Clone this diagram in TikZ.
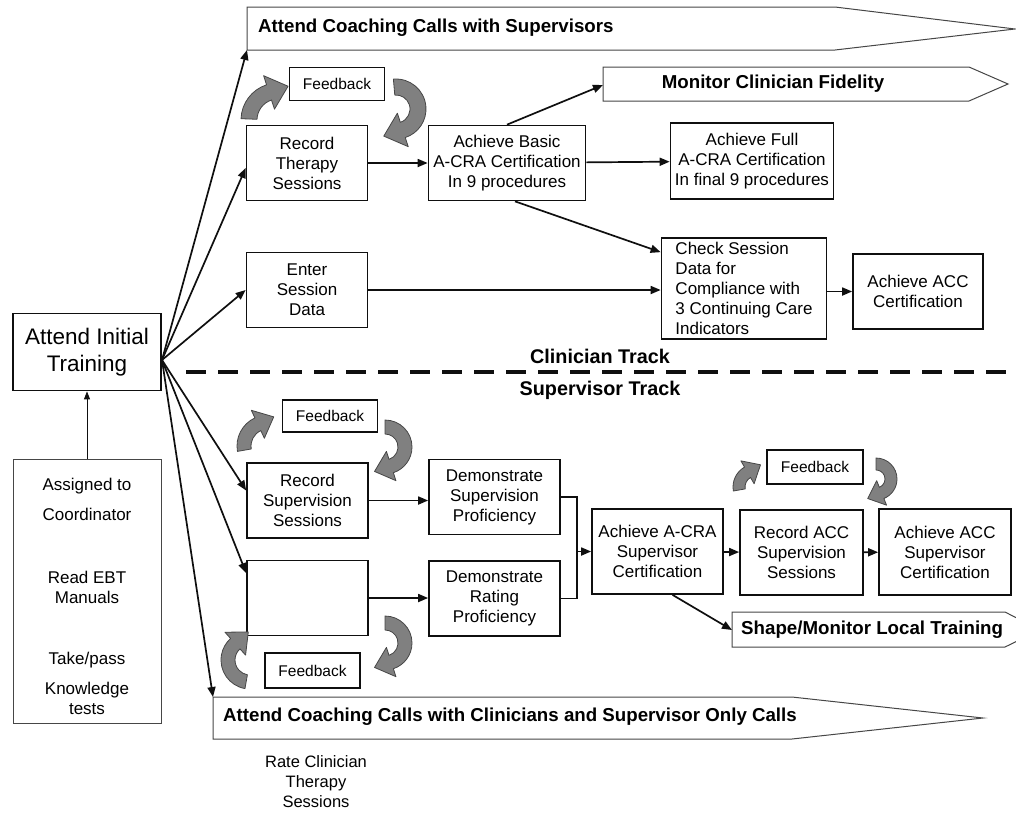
\documentclass[tikz,border=0pt]{standalone}
\usepackage{fontspec}
\setmainfont{Liberation Sans}
\usetikzlibrary{arrows.meta,positioning,calc}
\definecolor{ink}{RGB}{15,15,15}
\definecolor{steel}{RGB}{128,128,128}
\definecolor{rim}{RGB}{70,70,70}
\tikzset{
  >={Triangle[length=10pt,width=8pt]},
  box/.style={draw=ink,line width=1.7pt,fill=white,align=center,inner sep=0pt,
    font=\fontsize{17}{20}\selectfont},
  size/.style 2 args={minimum width=#1pt,minimum height=#2pt},
  fbox/.style={box,font=\fontsize{15.5}{18}\selectfont},
  banner/.style={draw=rim,line width=1pt,fill=white},
  bantext/.style={font=\fontsize{18.7}{22}\selectfont\bfseries,inner sep=0pt},
  track/.style={font=\fontsize{19.8}{22}\selectfont\bfseries,inner sep=0pt},
  link/.style={->,line width=1.7pt,draw=ink},
  thinlink/.style={-{Triangle[length=8pt,width=6pt]},line width=0.9pt,draw=ink},
  curlarrow/.style={fill=steel,draw=rim,line width=0.8pt,line join=round},
  % bent block arrow: radius, start angle, end angle, half width
  pics/curl/.style n args={4}{code={
    \pgfmathsetmacro\ro{#1+#4}
    \pgfmathsetmacro\ri{#1-#4}
    \pgfmathsetmacro\hro{#1+2.2*#4}
    \pgfmathsetmacro\hri{#1-2.2*#4}
    \pgfmathsetmacro\tdir{#3+ifthenelse(#3>#2,90,-90)}
    \pgfmathsetmacro\tlen{2.5*#4}
    \draw[curlarrow] (#2:\ro) arc[start angle=#2,end angle=#3,radius=\ro]
      -- (#3:\hro) -- ($(#3:#1)+(\tdir:\tlen)$) -- (#3:\hri) -- (#3:\ri)
      arc[start angle=#3,end angle=#2,radius=\ri] -- cycle;
  }},
}

\begin{document}
\begin{tikzpicture}[x=1pt,y=-1pt]
  \useasboundingbox (0,0) rectangle (1016,815);
  \clip (0,0) rectangle (1016,815);

  % banners
  \draw[banner] (247,7) -- (835,7) -- (1015,29) -- (835,50) -- (247,50) -- cycle;
  \node[bantext,anchor=west] (coachs) at (258,28) {Attend Coaching Calls with Supervisors};
  \coordinate (coachsin) at (247,50);
  \draw[banner] (603,67) -- (969,67) -- (1008,84) -- (969,101) -- (603,101) -- cycle;
  \node[bantext] (fidel) at (773,84) {Monitor Clinician Fidelity};
  \coordinate (fidelin) at (603,85);
  \draw[banner] (732,612) -- (1005,612) -- (1040,630) -- (1005,647) -- (732,647) -- cycle;
  \node[bantext,anchor=west] (local) at (741,630) {Shape/Monitor Local Training};
  \coordinate (localin) at (732,630);
  \draw[banner] (213,697) -- (792,697) -- (983,718) -- (792,739) -- (213,739) -- cycle;
  \node[bantext,anchor=west] (coachc) at (223,717) {Attend Coaching Calls with Clinicians and Supervisor Only Calls};
  \coordinate (coachcin) at (213,697);

  % left column
  \node[box,size={148}{77},font=\fontsize{22.5}{27}\selectfont] (init) at (87,352) {Attend Initial\\Training};
  \node[draw=rim,line width=0.9pt,size={148}{264}] (prep) at (87,591) {};
  \node[font=\fontsize{17}{20}\selectfont,align=center] (prept) at (87,596)
    {Assigned to\\[10pt]Coordinator\\[43pt]Read EBT\\Manuals\\[41pt]Take/pass\\[10pt]Knowledge\\tests};
  \coordinate (fan) at (162,360);

  % clinician track
  \node[fbox,size={95}{33}] (fbc) at (337,84) {Feedback};
  \node[box,size={121}{75}] (rts) at (307,163) {Record\\Therapy\\Sessions};
  \node[box,size={157}{75}] (basic) at (507,163) {Achieve Basic\\A-CRA Certification\\In 9 procedures};
  \node[box,size={163}{76}] (full) at (752,161) {Achieve Full\\A-CRA Certification\\In final 9 procedures};
  \node[box,size={121}{75}] (esd) at (307,290) {Enter\\Session\\Data};
  \node[box,size={165}{101},align=left] (check) at (744,288.5)
    {Check Session\\Data for\\Compliance with\\3 Continuing Care\\Indicators};
  \node[box,size={130}{75}] (acc) at (918,291.5) {Achieve ACC\\Certification};

  \pic at (278,120) {curl={29}{182}{252}{8}};
  \pic at (396,109) {curl={22}{-95}{72}{8}};

  % track divider
  \draw[line width=4pt,ink,dash pattern=on 20pt off 12pt] (186,372) -- (1016,372);
  \node[track] (ctrack) at (600,356) {Clinician Track};
  \node[track] (strack) at (600,390) {Supervisor Track};

  % supervisor track
  \node[fbox,size={95}{32}] (fbs) at (330,416) {Feedback};
  \node[box,size={121}{75}] (rss) at (307.5,500.5) {Record\\Supervision\\Sessions};
  \node[box,size={131}{75}] (dsp) at (494.5,497) {Demonstrate\\Supervision\\Proficiency};
  \node[box,size={121}{75}] (blank) at (307.5,598) {};
  \node[box,size={131}{75}] (drp) at (494.5,598.5) {Demonstrate\\Rating\\Proficiency};
  \node[fbox,size={95}{35}] (fbb) at (312.5,670.5) {Feedback};
  \node[box,size={131}{85}] (cert) at (657.5,551.5) {Achieve A-CRA\\Supervisor\\Certification};
  \node[box,size={123}{85}] (racc) at (801.5,552.5) {Record ACC\\Supervision\\Sessions};
  \node[box,size={132}{86}] (accs) at (945,552) {Achieve ACC\\Supervisor\\Certification};
  \node[fbox,size={96}{34}] (fba) at (815,467) {Feedback};
  \node[font=\fontsize{16.5}{20}\selectfont,align=center] (rate) at (316,782) {Rate Clinician\\Therapy\\Sessions};
  \coordinate (join) at (577,551.5);

  \pic at (268,446) {curl={24}{170}{245}{7}};
  \pic at (385,447) {curl={20}{-90}{72}{7}};
  \pic at (385,643) {curl={20}{-90}{72}{7}};
  \pic at (250,660) {curl={22}{100}{228}{7}};
  \pic at (756,487) {curl={17}{170}{240}{6}};
  \pic at (876,479) {curl={15}{-90}{68}{6}};

  % connectors
  \draw[link] (fan) -- (coachsin);
  \draw[link] (fan) -- ($(rts.west)+(0,5)$);
  \draw[link] (fan) -- (esd.west);
  \draw[link] (fan) -- ($(rss.west)+(0,-10)$);
  \draw[link] (fan) -- ($(blank.west)+(0,-25)$);
  \draw[link] (fan) -- (coachcin);
  \draw[thinlink] (prep) -- (init);
  \draw[link] (rts) -- (basic);
  \draw[link] (basic.north) -- (fidelin);
  \draw[link] (basic) -- (full);
  \draw[link] ($(basic.south)+(8,0)$) -- ($(check.north west)+(0,15)$);
  \draw[link] (esd) -- (esd -| check.west);
  \draw[link] (check.east |- acc) -- (acc);
  \draw[link] (rss) -- (rss -| dsp.west);
  \draw[link] (blank) -- (blank -| drp.west);
  \draw[line width=1.7pt,ink] (dsp.east) -| (join) |- (drp.east);
  \draw[link] (join) -- (cert);
  \draw[link] (cert) -- (racc);
  \draw[link] (racc) -- (accs);
  \draw[link] ($(cert.south)+(15,0)$) -- (localin);
\end{tikzpicture}
\end{document}
